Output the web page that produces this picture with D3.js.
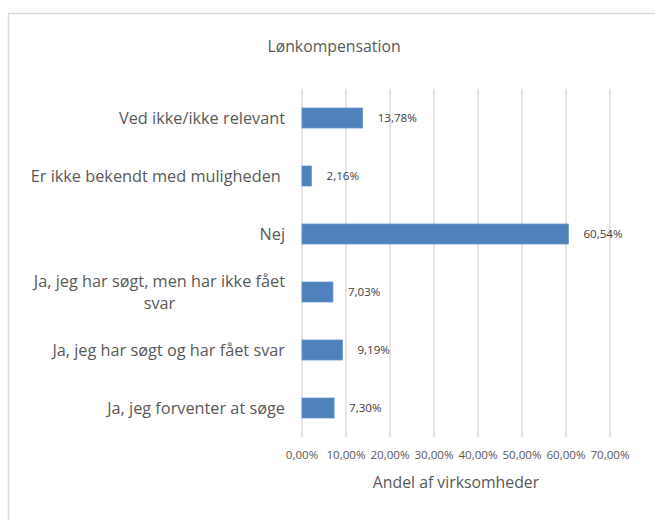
<!DOCTYPE html>
<html>
<head>
<meta charset="utf-8">
<script src="https://cdn.jsdelivr.net/npm/d3@7"></script>
<style>
  body { margin: 0; background: #fff; }
  text { font-family: "Open Sans", "Noto Sans", sans-serif; white-space: pre; }
</style>
</head>
<body>
<div class="canvas"></div>
<script>
const categories = [
  'Ved ikke/ikke relevant',
  'Er ikke bekendt med muligheden ',
  'Nej',
  'Ja, jeg har søgt, men har ikke fået svar',
  'Ja, jeg har søgt og har fået svar',
  'Ja, jeg forventer at søge'
]
const values = [13.78, 2.16, 60.54, 7.03, 9.19, 7.30]
const valueLabels = ['13,78%', '2,16%', '60,54%', '7,03%', '9,19%', '7,30%']
const ticks = [0, 10, 20, 30, 40, 50, 60, 70]
const tickLabels = ['0,00%', '10,00%', '20,00%', '30,00%', '40,00%', '50,00%', '60,00%', '70,00%']

const size = { width: 655, height: 520 }
const plot = { left: 302, right: 610, top: 89, bottom: 437 }
const fonts = { label: 16.3, title: 15.8, small: 11.6 }

const svg = d3.select('.canvas')
  .append('svg')
    .attr('width', size.width)
    .attr('height', size.height)

// Chart frame
svg.append('rect')
  .attr('x', 8.5).attr('y', 13.5)
  .attr('width', 700).attr('height', 600)
  .attr('fill', '#fff')
  .attr('stroke', '#d9d9d9')
  .attr('stroke-width', 1.5)

const x = d3.scaleLinear()
  .domain([0, 70])
  .range([plot.left, plot.right])

const y = d3.scaleBand()
  .domain(categories)
  .range([plot.top, plot.bottom])
  .paddingInner(0.655)
  .paddingOuter(0.3275)

// Gridlines
svg.append('g')
  .selectAll('line')
  .data(ticks)
  .enter()
  .append('line')
    .attr('x1', d => x(d)).attr('x2', d => x(d))
    .attr('y1', plot.top).attr('y2', plot.bottom)
    .attr('stroke', '#d9d9d9')
    .attr('stroke-width', 1.3)

// Tick labels
svg.append('g')
  .selectAll('text')
  .data(ticks)
  .enter()
  .append('text')
    .attr('x', d => x(d))
    .attr('y', 455)
    .attr('dy', '0.35em')
    .attr('text-anchor', 'middle')
    .attr('font-size', fonts.small)
    .attr('fill', '#595959')
    .text((d, i) => tickLabels[i])

// Bars
svg.append('g')
  .selectAll('rect')
  .data(values)
  .enter()
  .append('rect')
    .attr('x', x(0))
    .attr('y', (d, i) => y(categories[i]))
    .attr('width', d => x(d) - x(0))
    .attr('height', y.bandwidth())
    .attr('fill', '#4f81bd')
    .attr('stroke', '#6d98cc')
    .attr('stroke-width', 0.8)

// Value labels
svg.append('g')
  .selectAll('text')
  .data(values)
  .enter()
  .append('text')
    .attr('x', d => x(d) + 15)
    .attr('y', (d, i) => y(categories[i]) + y.bandwidth() / 2)
    .attr('dy', '0.35em')
    .attr('font-size', fonts.small)
    .attr('fill', '#404040')
    .text((d, i) => valueLabels[i])

// Category labels (wrapped like Excel, lines centred in a right-aligned block)
const maxLabelWidth = 270
const labelRight = 285
const catGroup = svg.append('g')

const measure = str => {
  const tmp = catGroup.append('text').attr('font-size', fonts.label).text(str)
  const w = tmp.node().getComputedTextLength()
  tmp.remove()
  return w
}

categories.forEach(cat => {
  const cy = y(cat) + y.bandwidth() / 2
  let lines = [cat]
  if (measure(cat) > maxLabelWidth) {
    const words = cat.split(' ')
    let line = []
    lines = []
    words.forEach(w => {
      if (measure([...line, w].join(' ')) > maxLabelWidth && line.length) {
        lines.push(line.join(' '))
        line = [w]
      } else {
        line.push(w)
      }
    })
    lines.push(line.join(' '))
  }

  const lineHeight = 22
  const blockWidth = d3.max(lines.map(measure))
  const cx = labelRight - blockWidth / 2
  const t = catGroup.append('text')
    .attr('font-size', fonts.label)
    .attr('fill', '#595959')
    .attr('text-anchor', 'middle')
  lines.forEach((l, i) => {
    t.append('tspan')
      .attr('x', cx)
      .attr('y', cy + (i - (lines.length - 1) / 2) * lineHeight)
      .attr('dy', '0.35em')
      .text(l)
  })
})

// Title
svg.append('text')
  .attr('x', 334)
  .attr('y', 46)
  .attr('dy', '0.35em')
  .attr('text-anchor', 'middle')
  .attr('font-size', fonts.title)
  .attr('fill', '#595959')
  .text('Lønkompensation')

// Axis title
svg.append('text')
  .attr('x', x(35))
  .attr('y', 482)
  .attr('dy', '0.35em')
  .attr('text-anchor', 'middle')
  .attr('font-size', fonts.title)
  .attr('fill', '#595959')
  .text('Andel af virksomheder')
</script>
</body>
</html>
